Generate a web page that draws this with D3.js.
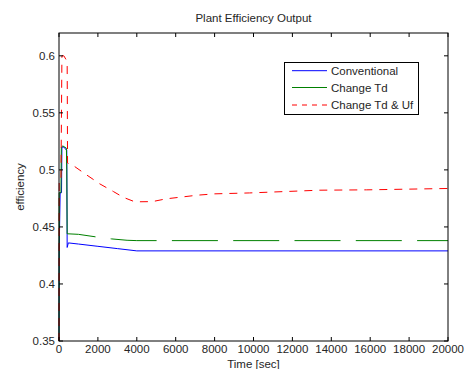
<!DOCTYPE html>
<html><head><meta charset="utf-8">
<script src="https://cdn.jsdelivr.net/npm/d3@7"></script>
<style>body{margin:0;background:#fff}svg{display:block;font-family:Arial,"Liberation Sans",sans-serif}</style>
</head><body><svg id="c" width="465" height="369"></svg>
<script>
const title = "Plant Efficiency Output";
const xLabel = "Time [sec]";
const yLabel = "efficiency";
const xTicks = [0,2000,4000,6000,8000,10000,12000,14000,16000,18000,20000];
const yTicks = [0.35,0.4,0.45,0.5,0.55,0.6];
const seriesNames = ["Conventional","Change Td","Change Td & Uf"];

const convT = [0,10,60,130,150,250,400,420,480,1000,2000,3000,4000,20000];
const convV = [0.35,0.43,0.48,0.48,0.52,0.52,0.517,0.432,0.436,0.435,0.433,0.431,0.429,0.429];

const tdT = [0,10,100,120,200,380,400,420];
const tdV = [0.35,0.48,0.48,0.52,0.521,0.519,0.50,0.444];
const tdTailT = [420,1000,2000,2700,3500,4000,20000];
const tdTailV = [0.444,0.4435,0.441,0.4395,0.4383,0.438,0.438];

const ufT = [0,10,100,150,250,420,440,800,1300,2100,2800,3300,3900,4800,5500,6200,7100,8000,9800,11600,13400,15800,20000];
const ufV = [0.35,0.49,0.49,0.6,0.6,0.595,0.506,0.503,0.497,0.4877,0.481,0.476,0.472,0.4722,0.4746,0.476,0.4778,0.479,0.4798,0.481,0.4822,0.4825,0.4837];

const colors = ["#0000ff","#008000","#ff0000"];

const svg = d3.select("#c");
const L=59,R=448,T=33,B=341;
const x = d3.scaleLinear().domain([0,20000]).range([L,R]);
const y = d3.scaleLinear().domain([0.35,0.62]).range([B,T]);

const line = d3.line().x(d=>x(d[0])).y(d=>y(d[1]));
const zip=(a,b)=>a.map((t,i)=>[t,b[i]]);

const plot = svg.append("g");
plot.append("path").attr("d",line(zip(convT,convV))).attr("fill","none").attr("stroke",colors[0]).attr("stroke-width",1);
plot.append("path").attr("d",line(zip(tdT,tdV))).attr("fill","none").attr("stroke",colors[1]).attr("stroke-width",1);
const firstDash=111-61.3;
plot.append("path").attr("d",line(zip(tdTailT,tdTailV))).attr("fill","none").attr("stroke",colors[1]).attr("stroke-width",1)
  .attr("stroke-dasharray","46,15.3").attr("stroke-dashoffset", x(tdTailT[0])-firstDash);
plot.append("path").attr("d",line(zip(ufT,ufV))).attr("fill","none").attr("stroke",colors[2]).attr("stroke-width",1)
  .attr("stroke-dasharray","8,7");

svg.append("rect").attr("x",L).attr("y",T).attr("width",R-L).attr("height",B-T).attr("fill","none").attr("stroke","#000").attr("stroke-width",1);

const tl=4;
const ax = svg.append("g").attr("stroke","#000").attr("stroke-width",1);
xTicks.forEach(t=>{
  ax.append("line").attr("x1",x(t)).attr("x2",x(t)).attr("y1",B).attr("y2",B-tl);
  ax.append("line").attr("x1",x(t)).attr("x2",x(t)).attr("y1",T).attr("y2",T+tl);
});
yTicks.forEach(v=>{
  ax.append("line").attr("x1",L).attr("x2",L+tl).attr("y1",y(v)).attr("y2",y(v));
  ax.append("line").attr("x1",R).attr("x2",R-tl).attr("y1",y(v)).attr("y2",y(v));
});
const fs=11.5, tc="#262626";
svg.append("g").selectAll("text").data(xTicks).join("text")
  .attr("x",d=>x(d)).attr("y",353).attr("text-anchor","middle").attr("font-size",fs).attr("fill",tc).text(d=>d);
svg.append("g").selectAll("text").data(yTicks).join("text")
  .attr("x",55).attr("y",d=>y(d)+4).attr("text-anchor","end").attr("font-size",fs).attr("fill",tc).text(d=>d);

svg.append("text").attr("x",(L+R)/2).attr("y",22).attr("text-anchor","middle").attr("font-size",fs).attr("fill",tc).text(title);
svg.append("text").attr("x",(L+R)/2).attr("y",368).attr("text-anchor","middle").attr("font-size",fs).attr("fill",tc).text(xLabel);
svg.append("text").attr("transform",`translate(24,${(T+B)/2}) rotate(-90)`).attr("text-anchor","middle").attr("font-size",fs).attr("fill",tc).text(yLabel);

const lg = svg.append("g");
lg.append("rect").attr("x",284.5).attr("y",62.5).attr("width",134).attr("height",52).attr("fill","#fff").attr("stroke","#000").attr("stroke-width",1);
const rowY=[70.7,87.5,105];
seriesNames.forEach((n,i)=>{
  lg.append("line").attr("x1",292).attr("x2",327).attr("y1",rowY[i]).attr("y2",rowY[i]).attr("stroke",colors[i]).attr("stroke-width",1)
    .attr("stroke-dasharray", i===2?"5,5":null);
  lg.append("text").attr("x",331).attr("y",rowY[i]+4).attr("font-size",fs).attr("fill",tc).text(n);
});
</script></body></html>
